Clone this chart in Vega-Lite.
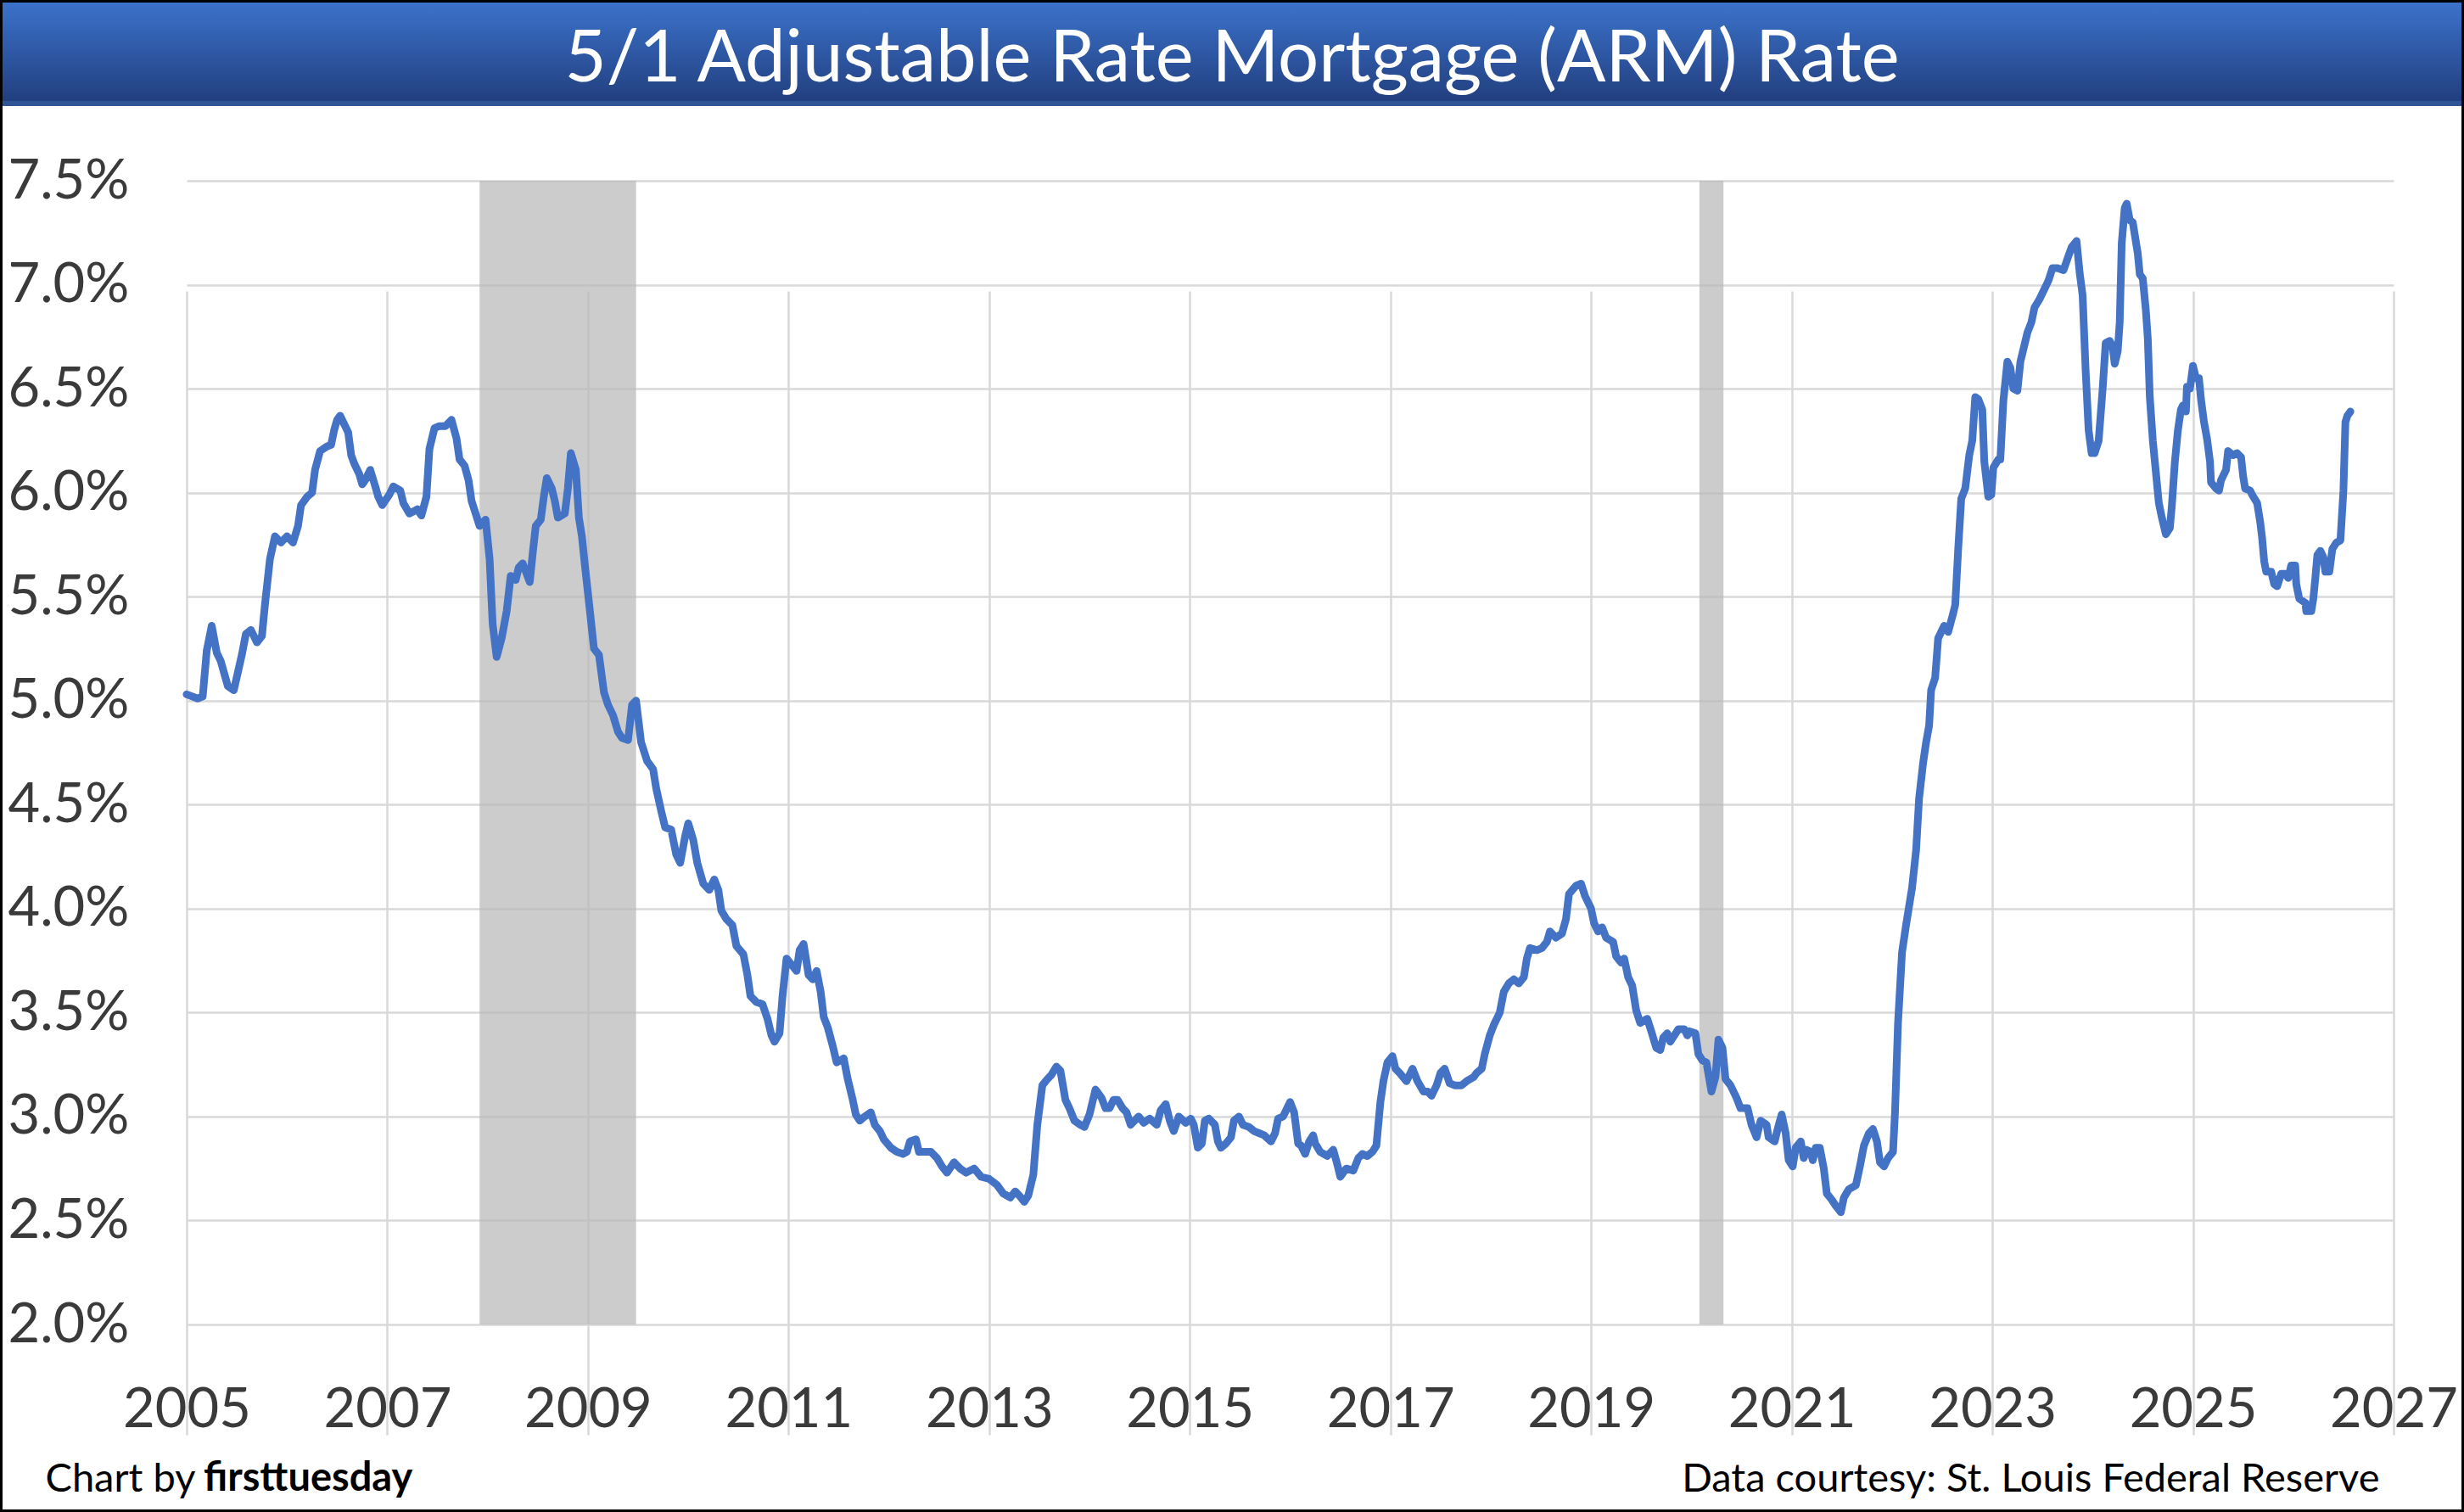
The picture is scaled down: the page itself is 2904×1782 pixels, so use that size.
{
  "$schema": "https://vega.github.io/schema/vega-lite/v6.json",
  "description": "5/1 ARM rate, 2005 onward, recessions shaded",
  "background": "#000000",
  "padding": 3,
  "spacing": 0,
  "config": {"font": "Lato", "concat": {"spacing": 0}},
  "vconcat": [
    {
      "width": 2898,
      "height": 122,
      "view": {
        "fill": {
          "gradient": "linear",
          "x1": 0, "y1": 0, "x2": 0, "y2": 1,
          "stops": [
            {"offset": 0, "color": "#3b72ca"},
            {"offset": 0.95, "color": "#223f7f"},
            {"offset": 0.955, "color": "#2f5597"},
            {"offset": 1, "color": "#2f5597"}
          ]
        },
        "stroke": null
      },
      "data": {"values": [{"label": "5/1 Adjustable Rate Mortgage (ARM) Rate"}]},
      "mark": {"type": "text", "font": "Lato", "fontSize": 85, "color": "#ffffff", "baseline": "alphabetic", "dy": 32},
      "encoding": {"text": {"field": "label", "type": "nominal"}}
    },
    {
      "width": 2898,
      "height": 1654,
      "view": {"fill": "#ffffff", "stroke": null},
      "title": {
        "text": "firsttuesday",
        "orient": "bottom",
        "anchor": "start",
        "frame": "group",
        "dx": 237,
        "offset": -22,
        "baseline": "alphabetic",
        "font": "Lato",
        "fontSize": 47,
        "fontWeight": "bold",
        "color": "#000000"
      },
      "encoding": {
        "x": {
          "field": "year",
          "type": "quantitative",
          "scale": {"domain": [2005, 2027], "range": [217, 2818], "nice": false, "zero": false},
          "axis": {
            "values": [2005, 2007, 2009, 2011, 2013, 2015, 2017, 2019, 2021, 2023, 2025, 2027],
            "format": "d",
            "offset": -218,
            "domain": false,
            "ticks": false,
            "tickSize": 0,
            "grid": true,
            "gridColor": "#d9d9d9",
            "gridWidth": 2.5,
            "labelFont": "Lato",
            "labelFontSize": 65,
            "labelColor": "#3a3a3a",
            "labelBaseline": "top",
            "labelAlign": "center",
            "labelPadding": 69,
            "labelFlush": false,
            "labelOverlap": false,
            "labelBound": false,
            "title": "Data courtesy: St. Louis Federal Reserve",
            "titleX": 2801,
            "titleY": 196,
            "titleAngle": 0,
            "titleAlign": "right",
            "titleBaseline": "alphabetic",
            "titleFont": "Lato",
            "titleFontSize": 47,
            "titleFontWeight": "normal",
            "titleColor": "#000000"
          }
        }
      },
      "layer": [
        {
          "data": {
            "values": [
              {"year": 2007.92, "end": 2009.48},
              {"year": 2020.08, "end": 2020.32}
            ]
          },
          "mark": {"type": "rect", "color": "#b8b8b8", "opacity": 0.72},
          "encoding": {
            "x2": {"field": "end"},
            "y": {"datum": 7.5, "type": "quantitative",
                  "scale": {"domain": [2, 7.5], "range": [1436, 88], "nice": false, "zero": false}},
            "y2": {"datum": 2}
          }
        },
        {
          "data": {
            "values": [
              {"year": 2005.00, "rate": 5.03}, {"year": 2005.11, "rate": 5.01}, {"year": 2005.16, "rate": 5.02},
              {"year": 2005.20, "rate": 5.24}, {"year": 2005.25, "rate": 5.36}, {"year": 2005.30, "rate": 5.23},
              {"year": 2005.34, "rate": 5.19}, {"year": 2005.41, "rate": 5.07}, {"year": 2005.47, "rate": 5.05},
              {"year": 2005.55, "rate": 5.22}, {"year": 2005.59, "rate": 5.32}, {"year": 2005.64, "rate": 5.34},
              {"year": 2005.70, "rate": 5.28}, {"year": 2005.75, "rate": 5.31}, {"year": 2005.78, "rate": 5.46},
              {"year": 2005.83, "rate": 5.68}, {"year": 2005.88, "rate": 5.79}, {"year": 2005.94, "rate": 5.76},
              {"year": 2006.00, "rate": 5.79}, {"year": 2006.06, "rate": 5.76}, {"year": 2006.11, "rate": 5.84},
              {"year": 2006.14, "rate": 5.94}, {"year": 2006.20, "rate": 5.98}, {"year": 2006.25, "rate": 6.00},
              {"year": 2006.28, "rate": 6.11}, {"year": 2006.33, "rate": 6.20}, {"year": 2006.39, "rate": 6.22},
              {"year": 2006.44, "rate": 6.23}, {"year": 2006.47, "rate": 6.30}, {"year": 2006.50, "rate": 6.35},
              {"year": 2006.53, "rate": 6.37}, {"year": 2006.58, "rate": 6.32}, {"year": 2006.61, "rate": 6.29},
              {"year": 2006.64, "rate": 6.18}, {"year": 2006.67, "rate": 6.14}, {"year": 2006.72, "rate": 6.09},
              {"year": 2006.75, "rate": 6.04}, {"year": 2006.78, "rate": 6.06}, {"year": 2006.83, "rate": 6.11},
              {"year": 2006.88, "rate": 6.03}, {"year": 2006.91, "rate": 5.98}, {"year": 2006.95, "rate": 5.94},
              {"year": 2007.02, "rate": 5.99}, {"year": 2007.06, "rate": 6.03}, {"year": 2007.13, "rate": 6.01},
              {"year": 2007.16, "rate": 5.95}, {"year": 2007.22, "rate": 5.90}, {"year": 2007.30, "rate": 5.92},
              {"year": 2007.34, "rate": 5.89}, {"year": 2007.39, "rate": 5.98}, {"year": 2007.42, "rate": 6.21},
              {"year": 2007.47, "rate": 6.31}, {"year": 2007.52, "rate": 6.32}, {"year": 2007.58, "rate": 6.32},
              {"year": 2007.64, "rate": 6.35}, {"year": 2007.69, "rate": 6.26}, {"year": 2007.72, "rate": 6.16},
              {"year": 2007.77, "rate": 6.13}, {"year": 2007.81, "rate": 6.06}, {"year": 2007.84, "rate": 5.96},
              {"year": 2007.88, "rate": 5.90}, {"year": 2007.92, "rate": 5.84}, {"year": 2007.98, "rate": 5.87},
              {"year": 2008.02, "rate": 5.68}, {"year": 2008.05, "rate": 5.37}, {"year": 2008.09, "rate": 5.21},
              {"year": 2008.14, "rate": 5.30}, {"year": 2008.19, "rate": 5.43}, {"year": 2008.23, "rate": 5.60},
              {"year": 2008.28, "rate": 5.58}, {"year": 2008.31, "rate": 5.64}, {"year": 2008.35, "rate": 5.66},
              {"year": 2008.42, "rate": 5.57}, {"year": 2008.45, "rate": 5.71}, {"year": 2008.48, "rate": 5.84},
              {"year": 2008.53, "rate": 5.87}, {"year": 2008.56, "rate": 5.98}, {"year": 2008.59, "rate": 6.07},
              {"year": 2008.64, "rate": 6.02}, {"year": 2008.67, "rate": 5.96}, {"year": 2008.70, "rate": 5.88},
              {"year": 2008.77, "rate": 5.90}, {"year": 2008.80, "rate": 6.02}, {"year": 2008.83, "rate": 6.19},
              {"year": 2008.88, "rate": 6.11}, {"year": 2008.91, "rate": 5.88}, {"year": 2008.94, "rate": 5.79},
              {"year": 2008.97, "rate": 5.65}, {"year": 2009.02, "rate": 5.43}, {"year": 2009.06, "rate": 5.25},
              {"year": 2009.11, "rate": 5.22}, {"year": 2009.16, "rate": 5.04}, {"year": 2009.20, "rate": 4.98},
              {"year": 2009.25, "rate": 4.93}, {"year": 2009.30, "rate": 4.85}, {"year": 2009.34, "rate": 4.82},
              {"year": 2009.40, "rate": 4.81}, {"year": 2009.44, "rate": 4.98}, {"year": 2009.48, "rate": 5.00},
              {"year": 2009.53, "rate": 4.80}, {"year": 2009.59, "rate": 4.71}, {"year": 2009.65, "rate": 4.67},
              {"year": 2009.68, "rate": 4.58}, {"year": 2009.73, "rate": 4.47}, {"year": 2009.77, "rate": 4.39},
              {"year": 2009.83, "rate": 4.38}, {"year": 2009.88, "rate": 4.26}, {"year": 2009.92, "rate": 4.22},
              {"year": 2009.97, "rate": 4.35}, {"year": 2010.00, "rate": 4.41}, {"year": 2010.05, "rate": 4.33},
              {"year": 2010.09, "rate": 4.22}, {"year": 2010.15, "rate": 4.12}, {"year": 2010.21, "rate": 4.09},
              {"year": 2010.26, "rate": 4.14}, {"year": 2010.30, "rate": 4.09}, {"year": 2010.33, "rate": 3.99},
              {"year": 2010.38, "rate": 3.95}, {"year": 2010.44, "rate": 3.92}, {"year": 2010.48, "rate": 3.82},
              {"year": 2010.55, "rate": 3.78}, {"year": 2010.59, "rate": 3.68}, {"year": 2010.62, "rate": 3.58},
              {"year": 2010.68, "rate": 3.55}, {"year": 2010.74, "rate": 3.54}, {"year": 2010.79, "rate": 3.47},
              {"year": 2010.83, "rate": 3.39}, {"year": 2010.86, "rate": 3.36}, {"year": 2010.91, "rate": 3.40},
              {"year": 2010.94, "rate": 3.58}, {"year": 2010.98, "rate": 3.76}, {"year": 2011.03, "rate": 3.73},
              {"year": 2011.08, "rate": 3.70}, {"year": 2011.11, "rate": 3.80}, {"year": 2011.15, "rate": 3.83},
              {"year": 2011.20, "rate": 3.68}, {"year": 2011.24, "rate": 3.66}, {"year": 2011.28, "rate": 3.70},
              {"year": 2011.32, "rate": 3.60}, {"year": 2011.35, "rate": 3.48}, {"year": 2011.39, "rate": 3.43},
              {"year": 2011.44, "rate": 3.34}, {"year": 2011.48, "rate": 3.26}, {"year": 2011.55, "rate": 3.28},
              {"year": 2011.59, "rate": 3.18}, {"year": 2011.64, "rate": 3.08}, {"year": 2011.67, "rate": 3.01},
              {"year": 2011.71, "rate": 2.98}, {"year": 2011.76, "rate": 3.00}, {"year": 2011.82, "rate": 3.02},
              {"year": 2011.86, "rate": 2.96}, {"year": 2011.91, "rate": 2.93}, {"year": 2011.95, "rate": 2.89},
              {"year": 2012.02, "rate": 2.85}, {"year": 2012.08, "rate": 2.83}, {"year": 2012.14, "rate": 2.82},
              {"year": 2012.18, "rate": 2.83}, {"year": 2012.21, "rate": 2.88}, {"year": 2012.27, "rate": 2.89},
              {"year": 2012.30, "rate": 2.83}, {"year": 2012.36, "rate": 2.83}, {"year": 2012.42, "rate": 2.83},
              {"year": 2012.48, "rate": 2.80}, {"year": 2012.53, "rate": 2.76}, {"year": 2012.58, "rate": 2.73},
              {"year": 2012.65, "rate": 2.78}, {"year": 2012.71, "rate": 2.75}, {"year": 2012.77, "rate": 2.73},
              {"year": 2012.85, "rate": 2.75}, {"year": 2012.92, "rate": 2.71}, {"year": 2013.00, "rate": 2.70},
              {"year": 2013.08, "rate": 2.67}, {"year": 2013.14, "rate": 2.63}, {"year": 2013.21, "rate": 2.61},
              {"year": 2013.26, "rate": 2.64}, {"year": 2013.30, "rate": 2.62}, {"year": 2013.35, "rate": 2.59},
              {"year": 2013.39, "rate": 2.62}, {"year": 2013.44, "rate": 2.72}, {"year": 2013.48, "rate": 2.96},
              {"year": 2013.53, "rate": 3.15}, {"year": 2013.58, "rate": 3.18}, {"year": 2013.62, "rate": 3.20},
              {"year": 2013.67, "rate": 3.24}, {"year": 2013.71, "rate": 3.22}, {"year": 2013.76, "rate": 3.08},
              {"year": 2013.80, "rate": 3.04}, {"year": 2013.85, "rate": 2.98}, {"year": 2013.91, "rate": 2.96},
              {"year": 2013.95, "rate": 2.95}, {"year": 2014.00, "rate": 3.01}, {"year": 2014.06, "rate": 3.13},
              {"year": 2014.12, "rate": 3.09}, {"year": 2014.16, "rate": 3.04}, {"year": 2014.20, "rate": 3.04},
              {"year": 2014.24, "rate": 3.08}, {"year": 2014.28, "rate": 3.08}, {"year": 2014.33, "rate": 3.04},
              {"year": 2014.37, "rate": 3.02}, {"year": 2014.41, "rate": 2.96}, {"year": 2014.49, "rate": 3.00},
              {"year": 2014.54, "rate": 2.97}, {"year": 2014.60, "rate": 2.99}, {"year": 2014.67, "rate": 2.96},
              {"year": 2014.71, "rate": 3.03}, {"year": 2014.76, "rate": 3.06}, {"year": 2014.80, "rate": 2.98},
              {"year": 2014.84, "rate": 2.93}, {"year": 2014.89, "rate": 3.00}, {"year": 2014.96, "rate": 2.97},
              {"year": 2015.01, "rate": 2.99}, {"year": 2015.04, "rate": 2.96}, {"year": 2015.08, "rate": 2.85},
              {"year": 2015.12, "rate": 2.87}, {"year": 2015.15, "rate": 2.98}, {"year": 2015.19, "rate": 2.99},
              {"year": 2015.25, "rate": 2.96}, {"year": 2015.28, "rate": 2.88}, {"year": 2015.31, "rate": 2.85},
              {"year": 2015.36, "rate": 2.87}, {"year": 2015.41, "rate": 2.90}, {"year": 2015.44, "rate": 2.98},
              {"year": 2015.49, "rate": 3.00}, {"year": 2015.53, "rate": 2.96}, {"year": 2015.59, "rate": 2.95},
              {"year": 2015.64, "rate": 2.93}, {"year": 2015.69, "rate": 2.92}, {"year": 2015.74, "rate": 2.91},
              {"year": 2015.81, "rate": 2.88}, {"year": 2015.85, "rate": 2.92}, {"year": 2015.88, "rate": 2.99},
              {"year": 2015.93, "rate": 3.00}, {"year": 2015.96, "rate": 3.03}, {"year": 2016.00, "rate": 3.07},
              {"year": 2016.04, "rate": 3.02}, {"year": 2016.08, "rate": 2.87}, {"year": 2016.11, "rate": 2.86},
              {"year": 2016.15, "rate": 2.82}, {"year": 2016.19, "rate": 2.88}, {"year": 2016.23, "rate": 2.91},
              {"year": 2016.25, "rate": 2.87}, {"year": 2016.30, "rate": 2.83}, {"year": 2016.37, "rate": 2.81},
              {"year": 2016.43, "rate": 2.84}, {"year": 2016.47, "rate": 2.77}, {"year": 2016.50, "rate": 2.71},
              {"year": 2016.56, "rate": 2.75}, {"year": 2016.63, "rate": 2.74}, {"year": 2016.68, "rate": 2.80},
              {"year": 2016.72, "rate": 2.82}, {"year": 2016.77, "rate": 2.81}, {"year": 2016.82, "rate": 2.83},
              {"year": 2016.86, "rate": 2.86}, {"year": 2016.90, "rate": 3.07}, {"year": 2016.93, "rate": 3.17},
              {"year": 2016.97, "rate": 3.26}, {"year": 2017.02, "rate": 3.29}, {"year": 2017.05, "rate": 3.23},
              {"year": 2017.09, "rate": 3.21}, {"year": 2017.16, "rate": 3.17}, {"year": 2017.22, "rate": 3.23},
              {"year": 2017.27, "rate": 3.17}, {"year": 2017.33, "rate": 3.12}, {"year": 2017.37, "rate": 3.12},
              {"year": 2017.41, "rate": 3.10}, {"year": 2017.46, "rate": 3.15}, {"year": 2017.50, "rate": 3.21},
              {"year": 2017.54, "rate": 3.23}, {"year": 2017.59, "rate": 3.16}, {"year": 2017.64, "rate": 3.15},
              {"year": 2017.71, "rate": 3.15}, {"year": 2017.76, "rate": 3.17}, {"year": 2017.83, "rate": 3.19},
              {"year": 2017.86, "rate": 3.21}, {"year": 2017.91, "rate": 3.23}, {"year": 2017.94, "rate": 3.30},
              {"year": 2017.99, "rate": 3.39}, {"year": 2018.03, "rate": 3.44}, {"year": 2018.09, "rate": 3.50},
              {"year": 2018.13, "rate": 3.60}, {"year": 2018.18, "rate": 3.64}, {"year": 2018.23, "rate": 3.66},
              {"year": 2018.28, "rate": 3.64}, {"year": 2018.33, "rate": 3.67}, {"year": 2018.36, "rate": 3.76},
              {"year": 2018.39, "rate": 3.81}, {"year": 2018.46, "rate": 3.80}, {"year": 2018.51, "rate": 3.81},
              {"year": 2018.56, "rate": 3.84}, {"year": 2018.59, "rate": 3.89}, {"year": 2018.65, "rate": 3.86},
              {"year": 2018.71, "rate": 3.88}, {"year": 2018.75, "rate": 3.95}, {"year": 2018.78, "rate": 4.07},
              {"year": 2018.85, "rate": 4.11}, {"year": 2018.90, "rate": 4.12}, {"year": 2018.94, "rate": 4.06},
              {"year": 2019.00, "rate": 4.00}, {"year": 2019.03, "rate": 3.93}, {"year": 2019.07, "rate": 3.89},
              {"year": 2019.11, "rate": 3.91}, {"year": 2019.15, "rate": 3.86}, {"year": 2019.22, "rate": 3.84},
              {"year": 2019.25, "rate": 3.77}, {"year": 2019.30, "rate": 3.74}, {"year": 2019.33, "rate": 3.76},
              {"year": 2019.37, "rate": 3.67}, {"year": 2019.41, "rate": 3.63}, {"year": 2019.45, "rate": 3.51},
              {"year": 2019.49, "rate": 3.45}, {"year": 2019.56, "rate": 3.47}, {"year": 2019.60, "rate": 3.41},
              {"year": 2019.65, "rate": 3.33}, {"year": 2019.69, "rate": 3.32}, {"year": 2019.72, "rate": 3.38},
              {"year": 2019.76, "rate": 3.40}, {"year": 2019.79, "rate": 3.36}, {"year": 2019.83, "rate": 3.39},
              {"year": 2019.87, "rate": 3.42}, {"year": 2019.93, "rate": 3.42}, {"year": 2019.96, "rate": 3.39},
              {"year": 2019.98, "rate": 3.41}, {"year": 2020.04, "rate": 3.40}, {"year": 2020.07, "rate": 3.30},
              {"year": 2020.11, "rate": 3.27}, {"year": 2020.15, "rate": 3.26}, {"year": 2020.20, "rate": 3.12},
              {"year": 2020.24, "rate": 3.19}, {"year": 2020.27, "rate": 3.37}, {"year": 2020.31, "rate": 3.33},
              {"year": 2020.34, "rate": 3.18}, {"year": 2020.39, "rate": 3.15}, {"year": 2020.45, "rate": 3.09},
              {"year": 2020.49, "rate": 3.04}, {"year": 2020.56, "rate": 3.04}, {"year": 2020.60, "rate": 2.96},
              {"year": 2020.65, "rate": 2.90}, {"year": 2020.69, "rate": 2.98}, {"year": 2020.75, "rate": 2.96},
              {"year": 2020.77, "rate": 2.90}, {"year": 2020.83, "rate": 2.88}, {"year": 2020.86, "rate": 2.94},
              {"year": 2020.90, "rate": 3.01}, {"year": 2020.94, "rate": 2.92}, {"year": 2020.97, "rate": 2.79},
              {"year": 2021.01, "rate": 2.76}, {"year": 2021.04, "rate": 2.85}, {"year": 2021.09, "rate": 2.88},
              {"year": 2021.12, "rate": 2.80}, {"year": 2021.15, "rate": 2.84}, {"year": 2021.19, "rate": 2.83},
              {"year": 2021.21, "rate": 2.79}, {"year": 2021.24, "rate": 2.85}, {"year": 2021.28, "rate": 2.85},
              {"year": 2021.32, "rate": 2.75}, {"year": 2021.35, "rate": 2.63}, {"year": 2021.40, "rate": 2.60},
              {"year": 2021.44, "rate": 2.57}, {"year": 2021.49, "rate": 2.54}, {"year": 2021.52, "rate": 2.61},
              {"year": 2021.57, "rate": 2.65}, {"year": 2021.64, "rate": 2.67}, {"year": 2021.68, "rate": 2.76},
              {"year": 2021.72, "rate": 2.86}, {"year": 2021.77, "rate": 2.92}, {"year": 2021.81, "rate": 2.94},
              {"year": 2021.85, "rate": 2.88}, {"year": 2021.88, "rate": 2.78}, {"year": 2021.92, "rate": 2.76},
              {"year": 2021.96, "rate": 2.80}, {"year": 2022.01, "rate": 2.83}, {"year": 2022.03, "rate": 3.02},
              {"year": 2022.06, "rate": 3.45}, {"year": 2022.10, "rate": 3.79}, {"year": 2022.14, "rate": 3.92},
              {"year": 2022.20, "rate": 4.10}, {"year": 2022.24, "rate": 4.28}, {"year": 2022.27, "rate": 4.53},
              {"year": 2022.31, "rate": 4.70}, {"year": 2022.34, "rate": 4.80}, {"year": 2022.37, "rate": 4.88},
              {"year": 2022.39, "rate": 5.05}, {"year": 2022.43, "rate": 5.11}, {"year": 2022.46, "rate": 5.30},
              {"year": 2022.52, "rate": 5.36}, {"year": 2022.56, "rate": 5.33}, {"year": 2022.61, "rate": 5.42},
              {"year": 2022.63, "rate": 5.46}, {"year": 2022.66, "rate": 5.73}, {"year": 2022.69, "rate": 5.97},
              {"year": 2022.73, "rate": 6.02}, {"year": 2022.77, "rate": 6.18}, {"year": 2022.80, "rate": 6.25},
              {"year": 2022.83, "rate": 6.46}, {"year": 2022.86, "rate": 6.45}, {"year": 2022.90, "rate": 6.40},
              {"year": 2022.92, "rate": 6.15}, {"year": 2022.96, "rate": 5.98}, {"year": 2022.99, "rate": 5.99},
              {"year": 2023.01, "rate": 6.12}, {"year": 2023.06, "rate": 6.16}, {"year": 2023.08, "rate": 6.16},
              {"year": 2023.11, "rate": 6.44}, {"year": 2023.15, "rate": 6.63}, {"year": 2023.18, "rate": 6.60},
              {"year": 2023.21, "rate": 6.50}, {"year": 2023.25, "rate": 6.49}, {"year": 2023.28, "rate": 6.63},
              {"year": 2023.32, "rate": 6.71}, {"year": 2023.35, "rate": 6.77}, {"year": 2023.39, "rate": 6.82},
              {"year": 2023.42, "rate": 6.89}, {"year": 2023.47, "rate": 6.93}, {"year": 2023.52, "rate": 6.98},
              {"year": 2023.56, "rate": 7.02}, {"year": 2023.60, "rate": 7.08}, {"year": 2023.65, "rate": 7.08},
              {"year": 2023.71, "rate": 7.07}, {"year": 2023.76, "rate": 7.14}, {"year": 2023.79, "rate": 7.18},
              {"year": 2023.84, "rate": 7.21}, {"year": 2023.87, "rate": 7.06}, {"year": 2023.90, "rate": 6.95},
              {"year": 2023.93, "rate": 6.59}, {"year": 2023.96, "rate": 6.30}, {"year": 2023.99, "rate": 6.19},
              {"year": 2024.02, "rate": 6.19}, {"year": 2024.06, "rate": 6.25}, {"year": 2024.10, "rate": 6.50},
              {"year": 2024.13, "rate": 6.72}, {"year": 2024.17, "rate": 6.73}, {"year": 2024.20, "rate": 6.70},
              {"year": 2024.22, "rate": 6.62}, {"year": 2024.25, "rate": 6.68}, {"year": 2024.27, "rate": 6.82},
              {"year": 2024.29, "rate": 7.20}, {"year": 2024.32, "rate": 7.37}, {"year": 2024.34, "rate": 7.39},
              {"year": 2024.37, "rate": 7.31}, {"year": 2024.40, "rate": 7.30}, {"year": 2024.42, "rate": 7.24},
              {"year": 2024.45, "rate": 7.15}, {"year": 2024.47, "rate": 7.05}, {"year": 2024.50, "rate": 7.03},
              {"year": 2024.53, "rate": 6.88}, {"year": 2024.55, "rate": 6.74}, {"year": 2024.57, "rate": 6.46},
              {"year": 2024.60, "rate": 6.25}, {"year": 2024.63, "rate": 6.10}, {"year": 2024.66, "rate": 5.95},
              {"year": 2024.69, "rate": 5.88}, {"year": 2024.73, "rate": 5.80}, {"year": 2024.77, "rate": 5.83},
              {"year": 2024.79, "rate": 5.94}, {"year": 2024.82, "rate": 6.15}, {"year": 2024.85, "rate": 6.30},
              {"year": 2024.88, "rate": 6.40}, {"year": 2024.90, "rate": 6.42}, {"year": 2024.93, "rate": 6.39},
              {"year": 2024.94, "rate": 6.51}, {"year": 2024.97, "rate": 6.50}, {"year": 2025.00, "rate": 6.61},
              {"year": 2025.03, "rate": 6.55}, {"year": 2025.06, "rate": 6.55}, {"year": 2025.08, "rate": 6.45},
              {"year": 2025.11, "rate": 6.34}, {"year": 2025.14, "rate": 6.26}, {"year": 2025.17, "rate": 6.15},
              {"year": 2025.18, "rate": 6.05}, {"year": 2025.23, "rate": 6.02}, {"year": 2025.26, "rate": 6.01},
              {"year": 2025.28, "rate": 6.06}, {"year": 2025.33, "rate": 6.11}, {"year": 2025.35, "rate": 6.20},
              {"year": 2025.40, "rate": 6.18}, {"year": 2025.44, "rate": 6.19}, {"year": 2025.48, "rate": 6.17},
              {"year": 2025.50, "rate": 6.08}, {"year": 2025.52, "rate": 6.02}, {"year": 2025.57, "rate": 6.01},
              {"year": 2025.59, "rate": 5.99}, {"year": 2025.64, "rate": 5.95}, {"year": 2025.67, "rate": 5.86},
              {"year": 2025.69, "rate": 5.78}, {"year": 2025.71, "rate": 5.67}, {"year": 2025.73, "rate": 5.62},
              {"year": 2025.78, "rate": 5.62}, {"year": 2025.81, "rate": 5.56}, {"year": 2025.84, "rate": 5.55},
              {"year": 2025.88, "rate": 5.61}, {"year": 2025.92, "rate": 5.61}, {"year": 2025.95, "rate": 5.59},
              {"year": 2025.98, "rate": 5.65}, {"year": 2026.02, "rate": 5.65}, {"year": 2026.03, "rate": 5.56},
              {"year": 2026.06, "rate": 5.49}, {"year": 2026.09, "rate": 5.48}, {"year": 2026.12, "rate": 5.47},
              {"year": 2026.13, "rate": 5.43}, {"year": 2026.18, "rate": 5.43}, {"year": 2026.20, "rate": 5.49},
              {"year": 2026.22, "rate": 5.59}, {"year": 2026.24, "rate": 5.70}, {"year": 2026.27, "rate": 5.72},
              {"year": 2026.30, "rate": 5.69}, {"year": 2026.32, "rate": 5.62}, {"year": 2026.36, "rate": 5.62},
              {"year": 2026.39, "rate": 5.73}, {"year": 2026.43, "rate": 5.76}, {"year": 2026.47, "rate": 5.77},
              {"year": 2026.50, "rate": 6.01}, {"year": 2026.52, "rate": 6.34}, {"year": 2026.54, "rate": 6.37},
              {"year": 2026.57, "rate": 6.39}
            ]
          },
          "mark": {"type": "line", "color": "#4472c4", "strokeWidth": 9, "strokeJoin": "round", "strokeCap": "round"},
          "encoding": {
            "y": {
              "field": "rate",
              "type": "quantitative",
              "scale": {"domain": [2, 7.5], "range": [1436, 88], "nice": false, "zero": false},
              "axis": {
                "values": [2, 2.5, 3, 3.5, 4, 4.5, 5, 5.5, 6, 6.5, 7, 7.5],
                "labelExpr": "format(datum.value, '.1f') + '%'",
                "offset": -217,
                "domain": false,
                "ticks": false,
                "tickSize": 0,
                "grid": true,
                "gridColor": "#d9d9d9",
                "gridWidth": 2.5,
                "labelFont": "Lato",
                "labelFontSize": 65,
                "labelColor": "#3a3a3a",
                "labelAlign": "left",
                "labelBaseline": "middle",
                "labelPadding": 211,
                "labelFlush": false,
                "labelOverlap": false,
                "labelBound": false,
                "title": "Chart by",
                "titleX": -167,
                "titleY": 1632,
                "titleAngle": 0,
                "titleAlign": "left",
                "titleBaseline": "alphabetic",
                "titleFont": "Lato",
                "titleFontSize": 47,
                "titleFontWeight": "normal",
                "titleColor": "#000000"
              }
            }
          }
        }
      ]
    }
  ]
}
